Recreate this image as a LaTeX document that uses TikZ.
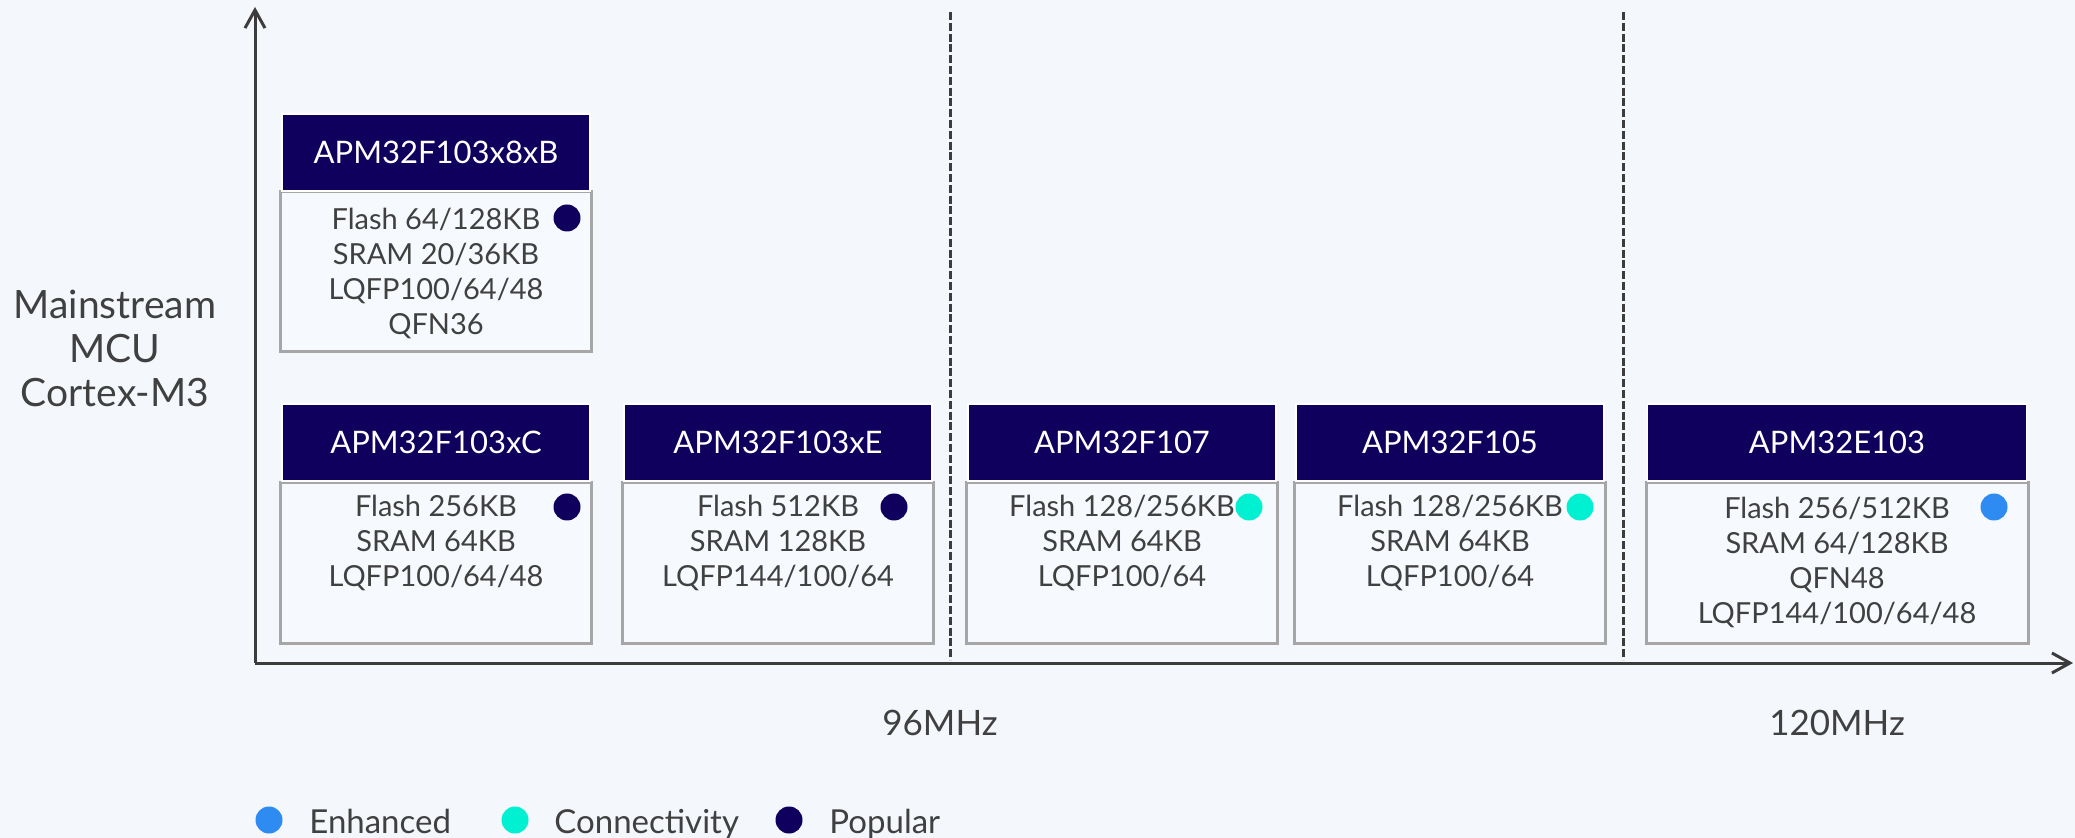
\documentclass[tikz,border=0pt]{standalone}
\usepackage{fontspec}
\setmainfont{Lato}
\usetikzlibrary{arrows.meta}
\definecolor{navy}{HTML}{10005E}
\definecolor{turq}{HTML}{00F0D2}
\definecolor{enh}{HTML}{2E8BF2}
\definecolor{txt}{HTML}{404040}
\definecolor{axisgray}{HTML}{3C3C3C}
\definecolor{boxgray}{HTML}{A6A6A6}
\definecolor{boxfill}{HTML}{F6F9FD}
\definecolor{bg}{HTML}{F4F7FC}
\begin{document}
\begin{tikzpicture}[x=0.5pt,y=-0.5pt,
  hdr/.style={fill=navy,draw=white,line width=0.8pt,text=white,minimum width=154pt,minimum height=38.5pt,inner sep=0pt,font=\fontsize{15.5}{19}\selectfont},
  bodybox/.style={fill=boxfill,draw=boxgray,line width=1.5pt,minimum width=155.5pt,minimum height=80pt,inner sep=0pt},
  bodytext/.style={text=txt,align=center,inner sep=0pt,anchor=north,font=\fontsize{14.5}{17.5}\selectfont},
  dot/.style={circle,inner sep=0pt,minimum size=13.5pt},
  axisline/.style={draw=axisgray,line width=1.5pt},
  divider/.style={draw=axisgray,line width=1.5pt,dash pattern=on 4pt off 1.4pt},
  lbl/.style={text=txt,inner sep=0pt,font=\fontsize{17.5}{21}\selectfont},
  legtext/.style={text=txt,inner sep=0pt,anchor=base west,font=\fontsize{16.5}{19}\selectfont}
]
\useasboundingbox (0,0) rectangle (2075,838);
\fill[bg] (0,0) rectangle (2075,838);

% axes
\coordinate (origin) at (255,663);
\coordinate (ytop) at (255,7);
\coordinate (xend) at (2073,663);
\draw[axisline,-{Straight Barb[length=9pt,width=10pt,line width=1.5pt]}] (origin) -- (ytop);
\draw[axisline,-{Straight Barb[length=9pt,width=10pt,line width=1.5pt]}] (origin) -- (xend);

% dividers
\coordinate (d1t) at (950,12); \coordinate (d1b) at (950,660);
\coordinate (d2t) at (1623,12); \coordinate (d2b) at (1623,660);
\draw[divider] (d1t) -- (d1b);
\draw[divider] (d2t) -- (d2b);

% y label
\node[lbl,align=center,font=\fontsize{19.5}{22}\selectfont] (ylab) at (115,348) {Mainstream\\MCU\\Cortex-M3};

% x labels
\node[lbl] (f96) at (940,723) {96MHz};
\node[lbl] (f120) at (1837,723) {120MHz};

% product APM32F103x8xB
\node[bodybox] (b1) at (436,272) {};
\node[hdr] (h1) at (436,152.5) {APM32F103x8xB};
\node[bodytext] (t1) at (436,208) {Flash 64/128KB\\SRAM 20/36KB\\LQFP100/64/48\\QFN36};
\node[dot,fill=navy] (p1) at (567,218) {};

% APM32F103xC
\node[bodybox] (b2) at (436,563) {};
\node[hdr] (h2) at (436,442.5) {APM32F103xC};
\node[bodytext] (t2) at (436,495) {Flash 256KB\\SRAM 64KB\\LQFP100/64/48};
\node[dot,fill=navy] (p2) at (567,507) {};

% APM32F103xE
\node[bodybox] (b3) at (778,563) {};
\node[hdr] (h3) at (778,442.5) {APM32F103xE};
\node[bodytext] (t3) at (778,495) {Flash 512KB\\SRAM 128KB\\LQFP144/100/64};
\node[dot,fill=navy] (p3) at (894,507) {};

% APM32F107
\node[bodybox] (b4) at (1122,563) {};
\node[hdr] (h4) at (1122,442.5) {APM32F107};
\node[bodytext] (t4) at (1122,495) {Flash 128/256KB\\SRAM 64KB\\LQFP100/64};
\node[dot,fill=turq] (p4) at (1249,507) {};

% APM32F105
\node[bodybox] (b5) at (1450,563) {};
\node[hdr] (h5) at (1450,442.5) {APM32F105};
\node[bodytext] (t5) at (1450,495) {Flash 128/256KB\\SRAM 64KB\\LQFP100/64};
\node[dot,fill=turq] (p5) at (1580,507) {};

% APM32E103
\node[bodybox,minimum width=191pt] (b6) at (1837,563) {};
\node[hdr,minimum width=189.5pt] (h6) at (1837,442.5) {APM32E103};
\node[bodytext] (t6) at (1837,497) {Flash 256/512KB\\SRAM 64/128KB\\QFN48\\LQFP144/100/64/48};
\node[dot,fill=enh] (p6) at (1994,507) {};

% legend
\node[dot,fill=enh] (l1) at (269,820) {};
\node[legtext] (lt1) at (309,833) {Enhanced};
\node[dot,fill=turq] (l2) at (515,820) {};
\node[legtext] (lt2) at (554,833) {Connectivity};
\node[dot,fill=navy] (l3) at (789,820) {};
\node[legtext] (lt3) at (829,833) {Popular};
\end{tikzpicture}
\end{document}
